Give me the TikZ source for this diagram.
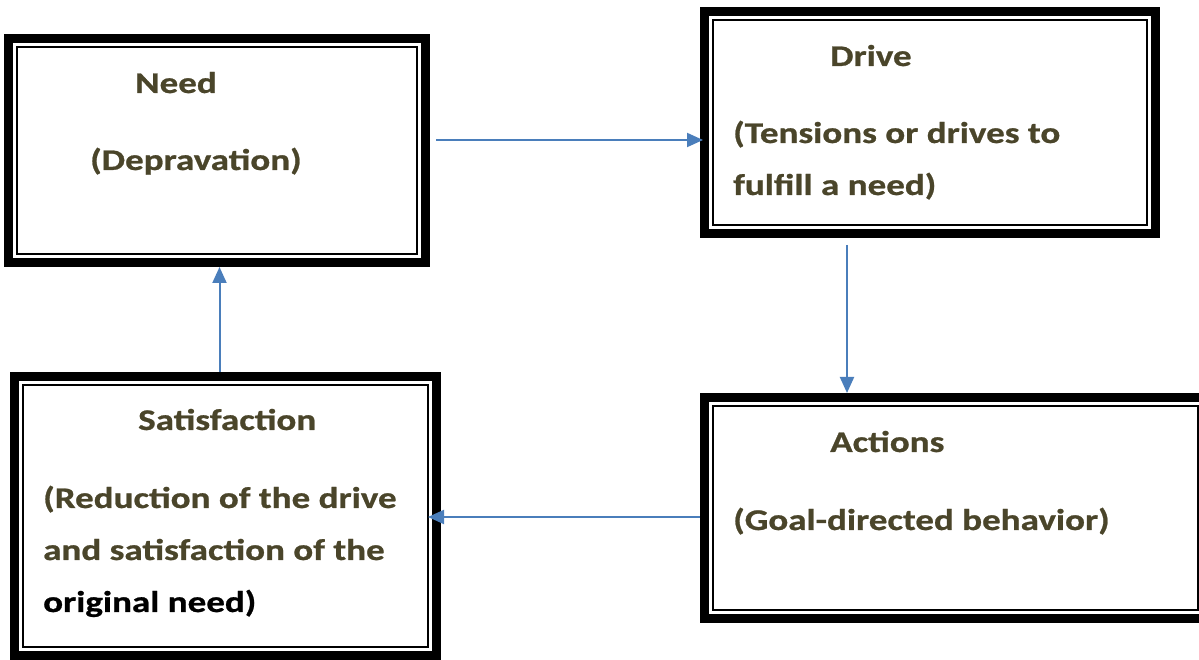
\documentclass[tikz,border=0pt]{standalone}
\usepackage{fontspec}
\setmainfont{Carlito}[FakeStretch=1.235,FakeBold=0.8]
\usepackage{xcolor}
\usetikzlibrary{arrows.meta,calc}
\definecolor{olivetext}{HTML}{4A452A}
\definecolor{arrowblue}{HTML}{4A7EBB}

\begin{document}
\begin{tikzpicture}[x=1pt,y=1pt,
  framebox/.style 2 args={draw,line width=9pt,inner sep=0pt,
    minimum width=#1,minimum height=#2,
    path picture={\draw[line width=2pt]
      ([shift={(8.5pt,8.5pt)}]path picture bounding box.south west) rectangle
      ([shift={(-8.5pt,-8.5pt)}]path picture bounding box.north east);}},
  lbl/.style={anchor=base west,inner sep=0pt,align=left,text=olivetext,
    font=\fontsize{30}{52}\selectfont\bfseries},
  flow/.style={arrowblue,line width=2pt,-{Triangle[length=16pt,width=14pt]}}]
  \fill[white] (0,0) rectangle (1199,660);
  \useasboundingbox (0,0) rectangle (1199,660);

  % the four boxes
  \node[framebox={417pt}{224pt}] (need) at (217,509.5) {};
  \node[framebox={451pt}{222pt}] (drive) at (930,537.5) {};
  \node[framebox={422pt}{279pt}] (satis) at (225.5,144) {};
  \node[framebox={501.5pt}{221pt}] (actions) at (955.25,152) {};

  % texts (base = last line)
  \node[lbl] (needtitle) at (135,567) {Need};
  \node[lbl] (needtext) at (90,490) {(Depravation)};
  \node[lbl] (drivetitle) at (830,594) {Drive};
  \node[lbl] (drivetext) at (733,465) {(Tensions or drives to\\fulfill a need)};
  \node[lbl] (satistitle) at (138,230) {Satisfaction};
  \node[lbl] (satistext) at (43,48) {(Reduction of the drive\\and satisfaction of the\\\textcolor{black}{original need)}};
  \node[lbl] (actionstitle) at (830,208) {Actions};
  \node[lbl] (actionstext) at (733,130) {(Goal-directed behavior)};

  % the cycle
  \draw[flow] ([shift={(6pt,10.5pt)}]need.east) coordinate (a1) -- ($(a1 -| drive.west)+(3,0)$);
  \draw[flow] ([shift={(-83pt,-7pt)}]drive.south) coordinate (a2) -- (a2 |- actions.north);
  \draw[flow] ([yshift=-9pt]actions.west) coordinate (a3) -- ($(a3 -| satis.east)+(-13,0)$);
  \draw[flow] ([xshift=-6pt]satis.north) coordinate (a4) -- (a4 |- need.south);
\end{tikzpicture}
\end{document}
